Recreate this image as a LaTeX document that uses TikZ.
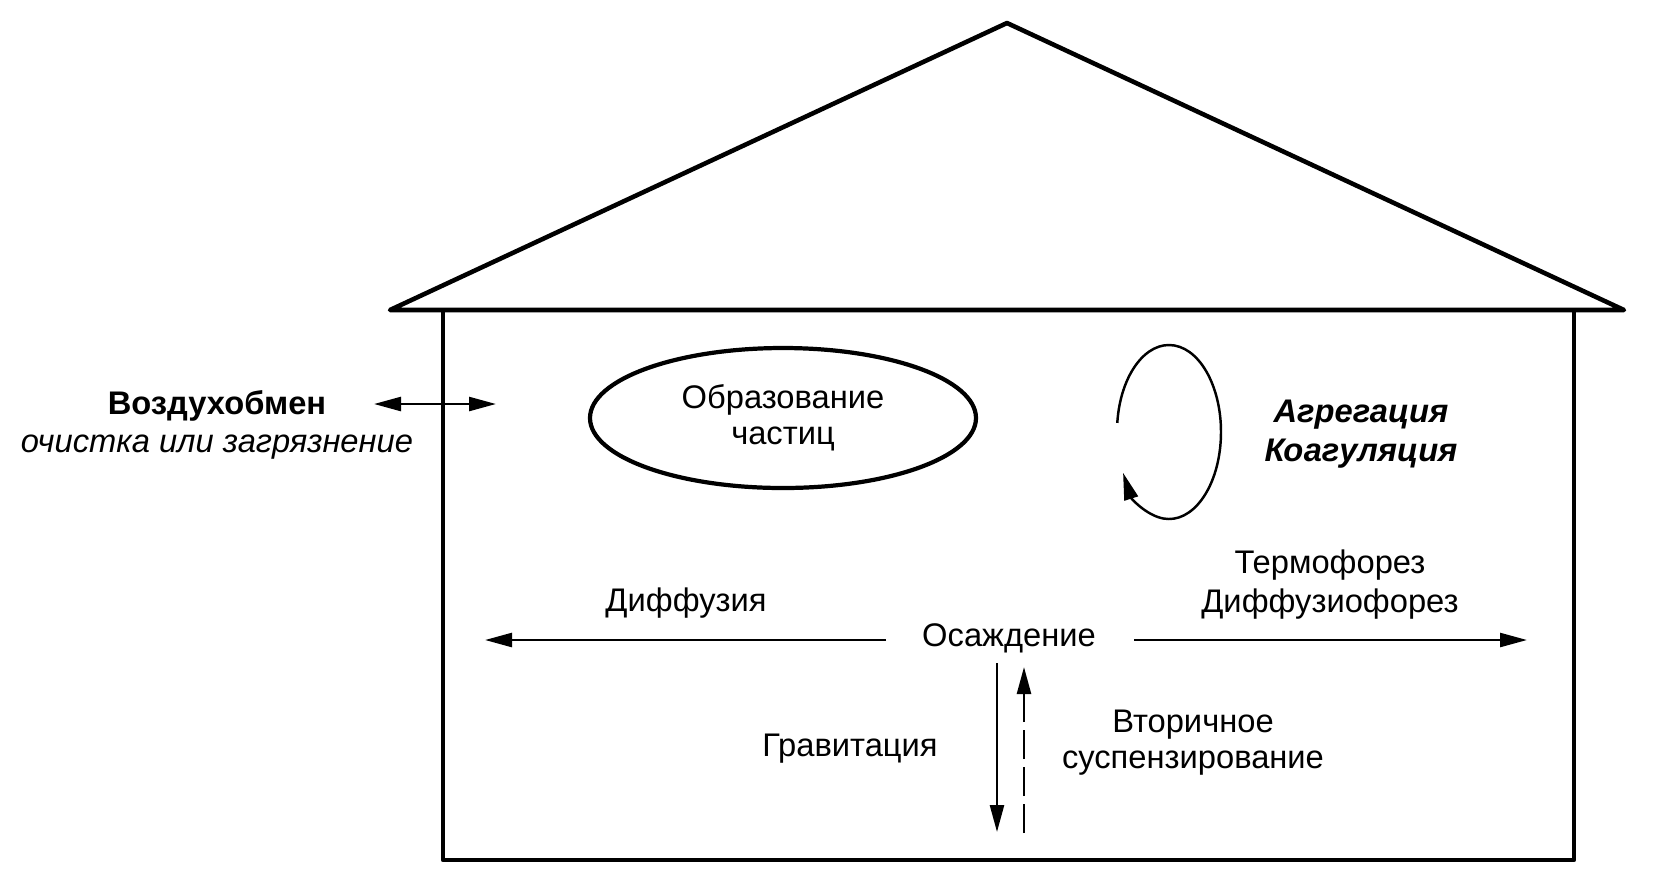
\documentclass[tikz,border=0pt]{standalone}
\usepackage{fontspec}
\setmainfont{Liberation Sans}
\usetikzlibrary{arrows.meta,shapes.geometric}
\begin{document}
\begin{tikzpicture}[x=0.1mm,y=-0.1mm,
  wall/.style={draw=black,line width=1.3pt,line join=round},
  tip/.tip={Triangle[length=2.7mm,width=1.4mm]},
  ar/.style={draw=black,line width=0.7pt,-tip},
  dsh/.style={ar,dash pattern=on 2.9mm off 0.8mm},
  lab/.style={font=\fontsize{9.3}{10.3}\selectfont,align=center,inner sep=0pt},
  blob/.style={ellipse,draw=black,line width=1.2pt,minimum width=38.6mm,minimum height=14mm,inner sep=0pt}]
  \useasboundingbox (0,0) rectangle (1654,887);
  % house
  \draw[wall] (390,310) -- (1007,23) -- (1624,310) -- cycle;
  \draw[wall] (443,310) -- (443,860) -- (1574,860) -- (1574,310);
  % labels
  \node[lab] (vozd) at (217,425) {\textbf{Воздухобмен}\\[0.6pt]\textit{очистка или загрязнение}};
  \node[blob,lab] (obr) at (783,418) {Образование\\частиц};
  \node[lab,font=\fontsize{9.3}{10.3}\selectfont\bfseries\itshape] (agr) at (1361,434) {Агрегация\\[0.8pt]Коагуляция};
  \node[lab] (termo) at (1330,585) {Термофорез\\[0.8pt]Диффузиофорез};
  \node[lab] (diff) at (686,603) {Диффузия};
  \node[lab] (osazh) at (1009,638) {Осаждение};
  \node[lab] (grav) at (850,749) {Гравитация};
  \node[lab] (vtor) at (1193,743) {Вторичное\\суспензирование};
  % arrows
  \coordinate (ab1) at (374,404); \coordinate (ab2) at (496,404);
  \draw[ar,tip-tip] (ab1) -- (ab2);
  \coordinate (dl1) at (886,640); \coordinate (dl2) at (485,640);
  \coordinate (dr1) at (1134,640); \coordinate (dr2) at (1527,640);
  \draw[ar] (dl1) -- (dl2);
  \draw[ar] (dr1) -- (dr2);
  \coordinate (g1) at (997,663); \coordinate (g2) at (997,832);
  \coordinate (s1) at (1024,833); \coordinate (s2) at (1024,667);
  \draw[ar] (g1) -- (g2);
  \draw[dsh] (s1) -- (s2);
  \coordinate (rot) at (1169,432);
  \draw[ar] (rot) ++(174:5.2mm and 8.7mm) arc[start angle=174,end angle=-152,x radius=5.2mm,y radius=8.7mm];
\end{tikzpicture}
\end{document}
